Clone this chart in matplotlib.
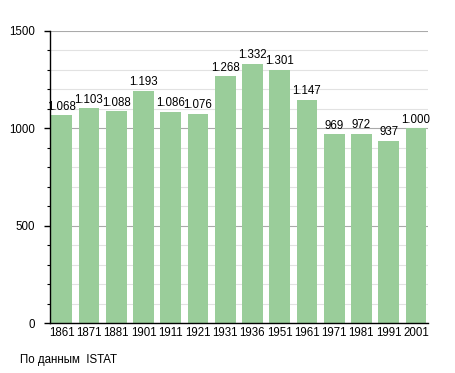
import matplotlib.pyplot as plt
from matplotlib.ticker import MultipleLocator

years = ["1861", "1871", "1881", "1901", "1911", "1921", "1931",
         "1936", "1951", "1961", "1971", "1981", "1991", "2001"]
population = [1068, 1103, 1088, 1193, 1086, 1076, 1268,
              1332, 1301, 1147, 969, 972, 937, 1000]

plt.rcParams['font.family'] = ['Liberation Sans', 'DejaVu Sans']
fs = 8.3

fig = plt.figure(figsize=(4.55, 3.73), dpi=100)
ax = fig.add_axes([0.110, 0.134, 0.831, 0.783])

x = range(len(years))
ax.bar(x, population, width=0.76, color='#9acd9a', zorder=2)

for i, v in enumerate(population):
    label = f"{v:,}".replace(",", ".")
    ax.text(i, v + 12, label, ha='center', va='bottom', fontsize=fs, zorder=3)

ax.set_xlim(-0.43, len(years) - 0.55)
ax.set_ylim(0, 1500)
ax.set_xticks(list(x))
ax.set_xticklabels(years, fontsize=fs)
ax.yaxis.set_major_locator(MultipleLocator(500))
ax.yaxis.set_minor_locator(MultipleLocator(100))
ax.tick_params(axis='y', which='major', length=4, width=1, labelsize=fs, pad=6.5)
ax.tick_params(axis='y', which='minor', length=2, width=0.8)
ax.tick_params(axis='x', length=0, pad=3)

ax.grid(axis='y', which='major', color='#aaaaaa', linewidth=0.8, zorder=0)
ax.grid(axis='y', which='minor', color='#e2e2e2', linewidth=0.8, zorder=0)

for s in ['top', 'right']:
    ax.spines[s].set_visible(False)
ax.spines['left'].set_linewidth(1.0)
ax.spines['bottom'].set_linewidth(1.0)

fig.text(20 / 455, 1 - 360 / 373, "По данным  ISTAT", fontsize=fs, va='center')

fig.savefig("out.png", dpi=100)
